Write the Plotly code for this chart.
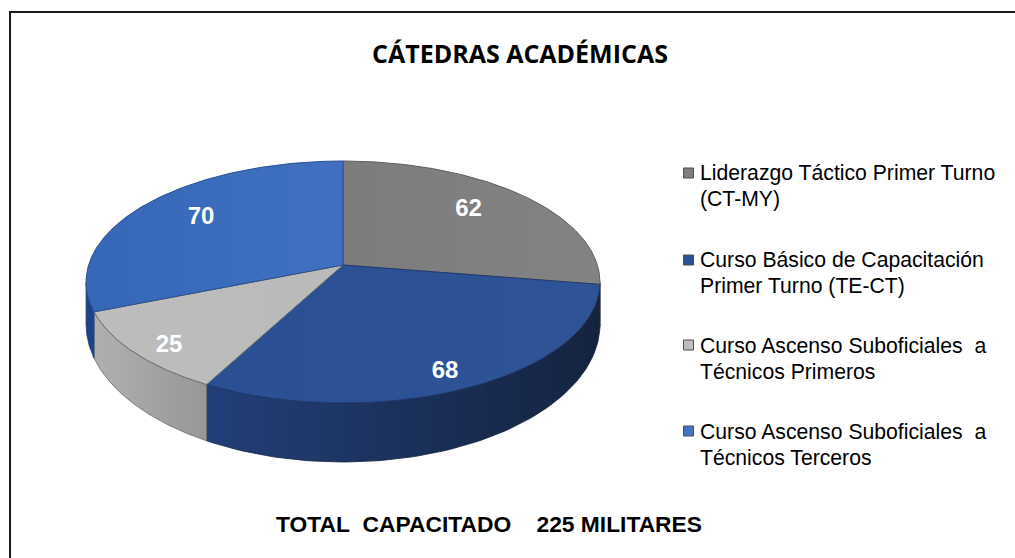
import numpy as np
import plotly.graph_objects as go

# --- data ---
categories = [
    ["Liderazgo Táctico Primer Turno", "(CT-MY)"],
    ["Curso Básico de Capacitación", "Primer Turno (TE-CT)"],
    ["Curso Ascenso Suboficiales\u00a0 a", "Técnicos Primeros"],
    ["Curso Ascenso Suboficiales\u00a0 a", "Técnicos Terceros"],
]
values = [62, 68, 25, 70]
title_text = "CÁTEDRAS ACADÉMICAS"
footer_text = "TOTAL\u00a0 CAPACITADO\u00a0\u00a0\u00a0 225 MILITARES"

# --- styling ---
top_grad = [("#7c7c7c", "#838383"), ("#2b4f93", "#2e5397"), ("#bdbdbd", "#bababa"), ("#3567b8", "#4170c0")]
side_grad = [("#4a4a4a", "#4a4a4a"), ("#223f78", "#14233f"), ("#b0b0b0", "#979797"), ("#1f4286", "#1f4286")]
side_edge = ["#4a4a4a", "#14233f", "#6a6a6a", "#1f4286"]
edge_colors = ["#5f5f5f", "#1f3a70", "#6f6f6f", "#27508f"]
swatch_colors = ["#7f7f7f", "#2c5094", "#bdbdbd", "#4472c4"]
label_radii = [0.70, 0.86, 0.86, 0.70]
label_shift = [(-2, -4), (-7, 5), (3, 7), (-2, -3)]

# projection of the pie disc on to the page
CX, CY, A, B, K, DEPTH = 343, 265, 254.4, 118.6, 0.1405, 59
DEN_FRONT = 1 - K


def project(phi, r=1.0):
    u, v = r * np.sin(phi), r * np.cos(phi)
    den = 1 + K * v
    return CX + A * u / den, CY - B * v / den, den


total = sum(values)
edges = np.concatenate([[0], np.cumsum(values)]) / total * 2 * np.pi
vis_a, vis_b = np.arccos(-K), 2 * np.pi - np.arccos(-K)

fig = go.Figure()


def grad(pair):
    return dict(type="horizontal", colorscale=[[0, pair[0]], [1, pair[1]]])


# sides
for i in range(len(values)):
    a, b = max(edges[i], vis_a), min(edges[i + 1], vis_b)
    if b <= a:
        continue
    phi = np.linspace(a, b, 80)
    x, y, den = project(phi)
    yb = y + DEPTH * (DEN_FRONT / den) ** 2.5
    fig.add_trace(go.Scatter(
        x=np.r_[x, x[::-1], x[0]], y=np.r_[y, yb[::-1], y[0]],
        mode="lines", fill="toself", fillgradient=grad(side_grad[i]),
        line=dict(color=side_edge[i], width=0.8), showlegend=False, hoverinfo="skip"))

# top faces
for i in range(len(values)):
    phi = np.linspace(edges[i], edges[i + 1], 200)
    x, y, _ = project(phi)
    fig.add_trace(go.Scatter(
        x=np.r_[CX, x, CX], y=np.r_[CY, y, CY],
        mode="lines", fill="toself", fillgradient=grad(top_grad[i]),
        line=dict(color=edge_colors[i], width=1), name=categories[i][0],
        showlegend=False, hoverinfo="skip"))

# value labels
mids = (edges[:-1] + edges[1:]) / 2
lx, ly = [], []
for m, r, s in zip(mids, label_radii, label_shift):
    px, py, _ = project(m, r)
    lx.append(px + s[0])
    ly.append(py + s[1])
fig.add_trace(go.Scatter(
    x=lx, y=ly, mode="text", text=[str(v) for v in values], textposition="middle center",
    textfont=dict(family="Liberation Sans", size=24, color="white", weight="bold"),
    showlegend=False, hoverinfo="skip"))

# legend
LEG_X, TEXT_X = 688.5, 698
LEG_Y = [173, 260, 345, 431]
LINE_STEP = 26
fig.add_trace(go.Scatter(
    x=[LEG_X] * 4, y=LEG_Y, mode="markers",
    marker=dict(symbol="square", size=10, color=swatch_colors, line=dict(color="#4d4d4d", width=1)),
    showlegend=False, hoverinfo="skip"))
annotations = []
for lines, yy in zip(categories, LEG_Y):
    for j, line in enumerate(lines):
        annotations.append(dict(x=TEXT_X, y=yy + j * LINE_STEP, xref="x", yref="y", text=line, showarrow=False,
                                xanchor="left", yanchor="middle",
                                font=dict(family="Liberation Sans", size=21.2, color="#000000")))
annotations.append(dict(x=520, y=53, xref="x", yref="y", text=title_text, showarrow=False,
                        font=dict(family="Open Sans", size=25, color="#000000", weight="bold")))
annotations.append(dict(x=488.5, y=524, xref="x", yref="y", text=footer_text, showarrow=False,
                        font=dict(family="Liberation Sans", size=22.8, color="#000000", weight="bold")))

fig.update_layout(
    width=1015, height=558, autosize=False,
    margin=dict(l=0, r=0, t=0, b=0),
    paper_bgcolor="white", plot_bgcolor="white", showlegend=False,
    xaxis=dict(range=[0, 1015], visible=False, fixedrange=True),
    yaxis=dict(range=[558, 0], visible=False, fixedrange=True),
    annotations=annotations,
    shapes=[
        dict(type="line", xref="x", yref="y", x0=9, y0=12, x1=1015, y1=12, line=dict(color="#1a1a1a", width=2)),
        dict(type="line", xref="x", yref="y", x0=10, y0=11, x1=10, y1=558, line=dict(color="#1a1a1a", width=2)),
    ],
)
fig.write_html("out.html", config=dict(displayModeBar=False),
               post_script="document.body.style.margin='0';document.body.style.overflow='hidden';")
